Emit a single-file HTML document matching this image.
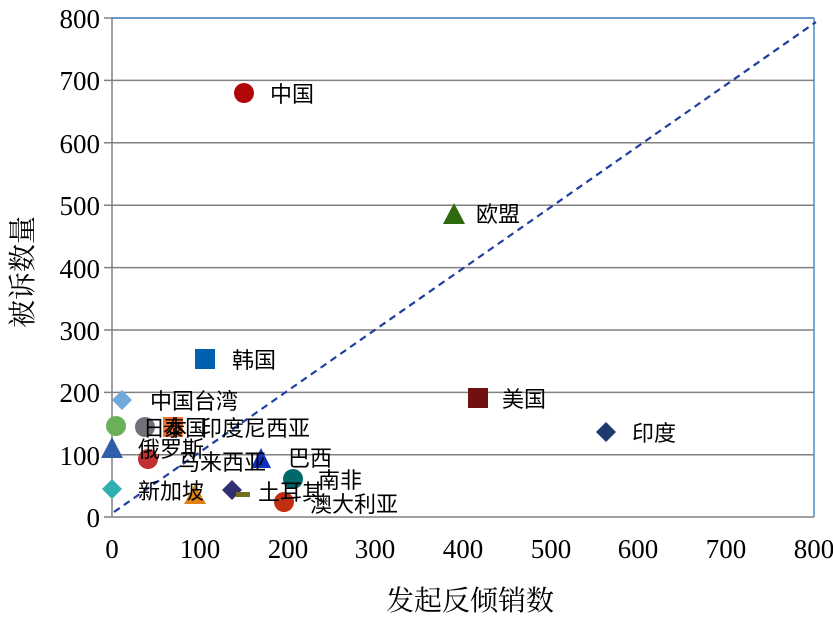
<!DOCTYPE html>
<html><head><meta charset="utf-8"><style>
body{margin:0;background:#fff;}
svg text{font-family:"Liberation Serif","Noto Serif CJK SC",serif;}
.lb{font-family:"Liberation Sans","Noto Sans CJK SC",sans-serif;font-size:22px;fill:#000;}
</style></head><body>
<svg width="833" height="624" xmlns="http://www.w3.org/2000/svg">
<rect width="833" height="624" fill="#fff"/>
<g stroke="#808080" stroke-width="1.5">
<line x1="104" y1="18" x2="814" y2="18"/>
<line x1="104" y1="80.4" x2="814" y2="80.4"/>
<line x1="104" y1="142.8" x2="814" y2="142.8"/>
<line x1="104" y1="205.2" x2="814" y2="205.2"/>
<line x1="104" y1="267.6" x2="814" y2="267.6"/>
<line x1="104" y1="330" x2="814" y2="330"/>
<line x1="104" y1="392.4" x2="814" y2="392.4"/>
<line x1="104" y1="454.8" x2="814" y2="454.8"/>
<line x1="104" y1="517" x2="814" y2="517"/>
<line x1="112" y1="18" x2="112" y2="517"/>
</g>
<line x1="112" y1="18" x2="814" y2="18" stroke="#4a8cc8" stroke-width="1.5"/>
<line x1="814" y1="18" x2="814" y2="517" stroke="#4a8cc8" stroke-width="1.5"/>
<g font-size="27" text-anchor="end" fill="#000">
<text x="100" y="28">800</text><text x="100" y="90">700</text><text x="100" y="153">600</text>
<text x="100" y="215">500</text><text x="100" y="278">400</text><text x="100" y="340">300</text>
<text x="100" y="402">200</text><text x="100" y="465">100</text><text x="100" y="527">0</text>
</g>
<g font-size="27" text-anchor="middle" fill="#000">
<text x="112" y="558">0</text><text x="200" y="558">100</text><text x="288" y="558">200</text>
<text x="375" y="558">300</text><text x="463" y="558">400</text><text x="551" y="558">500</text>
<text x="638" y="558">600</text><text x="726" y="558">700</text><text x="814" y="558">800</text>
</g>
<text x="470" y="610" font-size="28" text-anchor="middle">发起反倾销数</text>
<text transform="translate(32,272) rotate(-90)" font-size="28" text-anchor="middle">被诉数量</text>
<line x1="114" y1="512" x2="816" y2="22" stroke="#1f3fa0" stroke-width="2.2" stroke-dasharray="7,5"/>
<circle cx="244" cy="93" r="10" fill="#b00808"/>
<polygon points="454,203 465,224 443,224" fill="#2e6b10"/>
<rect x="195" y="349" width="20" height="20" fill="#0060b0"/>
<rect x="468" y="388" width="20" height="20" fill="#701010"/>
<polygon points="606,422 616,432 606,442 596,432" fill="#1f3a6e"/>
<polygon points="122,390 132,400 122,410 112,400" fill="#6fa8dc"/>
<circle cx="116" cy="426" r="10" fill="#6aaf5a"/>
<circle cx="145" cy="427" r="10" fill="#707078"/>
<rect x="163" y="417" width="20" height="20" fill="#f07030"/>
<polygon points="112,437 123,458 101,458" fill="#2f5fa8"/>
<circle cx="148" cy="459" r="10" fill="#c03030"/>
<polygon points="261,448 271,468 251,468" fill="#1030c0"/>
<circle cx="293" cy="479" r="10" fill="#006868"/>
<polygon points="112,479 122,489 112,499 102,489" fill="#30b0b0"/>
<polygon points="195,484 206,504 184,504" fill="#e08010"/>
<polygon points="232,480 242,490 232,500 222,490" fill="#303070"/>
<rect x="236" y="492" width="14" height="5" fill="#707020"/>
<circle cx="284" cy="502" r="10" fill="#c03010"/>
<text class="lb" x="270" y="102">中国</text>
<text class="lb" x="476" y="222">欧盟</text>
<text class="lb" x="232" y="368">韩国</text>
<text class="lb" x="502" y="407">美国</text>
<text class="lb" x="632" y="441">印度</text>
<text class="lb" x="150" y="409">中国台湾</text>
<text class="lb" x="143" y="436">日本</text>
<text class="lb" x="163" y="436">泰国</text>
<text class="lb" x="200" y="436">印度尼西亚</text>
<text class="lb" x="138" y="457">俄罗斯</text>
<text class="lb" x="178" y="470">马来西亚</text>
<text class="lb" x="288" y="466">巴西</text>
<text class="lb" x="318" y="488">南非</text>
<text class="lb" x="138" y="499">新加坡</text>
<text class="lb" x="258" y="500">土耳其</text>
<text class="lb" x="310" y="512">澳大利亚</text>
</svg>
</body></html>
